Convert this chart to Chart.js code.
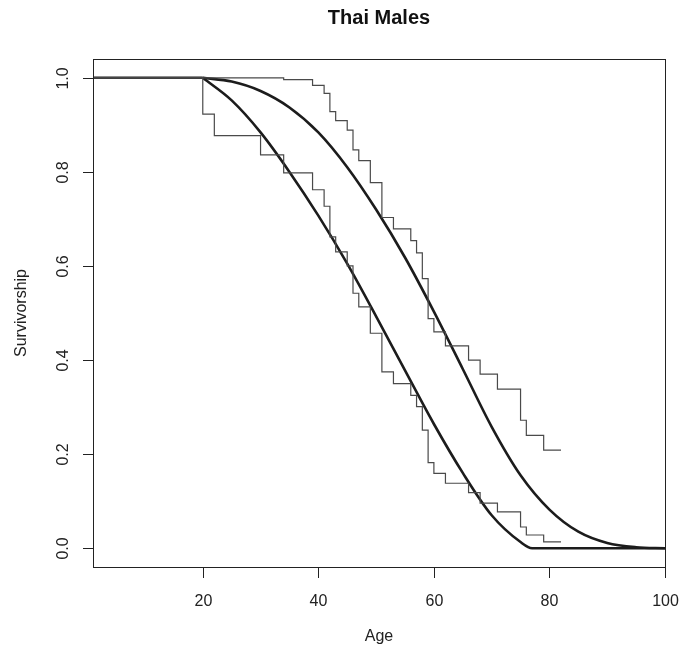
<!DOCTYPE html>
<html>
<head>
<meta charset="utf-8">
<script src="https://cdn.jsdelivr.net/npm/chart.js@4.4.1/dist/chart.umd.min.js"></script>
<style>
  html, body { margin: 0; padding: 0; background: #fff; }
  canvas { display: block; }
</style>
</head>
<body>
<canvas id="chart" width="694" height="654"></canvas>
<script>
// Kaplan-Meier steps: age of each drop and survivorship just after it
const kmStartAge = 1;
const kmAges = [20, 22, 30, 34, 39, 41, 42, 43, 45, 46, 47, 49, 51, 53, 56, 57, 58, 59, 60, 62, 66, 68, 71, 75, 76, 79, 82];
const upperKM = [1, 1, 1, 0.996, 0.984, 0.967, 0.928, 0.909, 0.889, 0.847, 0.824, 0.777, 0.703, 0.679, 0.654, 0.628, 0.573, 0.488, 0.46, 0.43, 0.4, 0.37, 0.338, 0.272, 0.24, 0.2085, 0.2085];
const lowerKM = [0.923, 0.877, 0.836, 0.798, 0.762, 0.727, 0.662, 0.63, 0.6, 0.542, 0.513, 0.457, 0.375, 0.35, 0.325, 0.301, 0.251, 0.182, 0.159, 0.138, 0.118, 0.096, 0.077, 0.045, 0.028, 0.0135, 0.0135];

// fitted curves
const flatAges = [1, 20];
const flatSurv = [1, 1];
const upperFitAges = [20, 25, 30, 35, 40, 45, 50, 55, 60, 65, 70, 75, 80, 85, 90, 95, 100];
const upperFit = [1, 0.992, 0.972, 0.937, 0.884, 0.81, 0.72, 0.618, 0.503, 0.381, 0.258, 0.155, 0.082, 0.035, 0.011, 0.002, 0];
const lowerFitAges = [20, 25, 30, 35, 40, 45, 50, 55, 60, 65, 70, 75, 77, 80, 100];
const lowerFit = [1, 0.952, 0.884, 0.8, 0.707, 0.605, 0.493, 0.378, 0.264, 0.16, 0.07, 0.013, 0, 0, 0];

const xTicks = [20, 40, 60, 80, 100];
const yTicks = [0, 0.2, 0.4, 0.6, 0.8, 1.0];
const titleText = "Thai Males";
const xTitle = "Age";
const yTitle = "Survivorship";

const FONT = "'Liberation Sans', Arial, Helvetica, sans-serif";

function pairs(xs, ys) {
  return xs.map((v, i) => ({ x: v, y: ys[i] }));
}

const stepStyle = {
  borderColor: "#4a4a4a",
  borderWidth: 1.2,
  pointRadius: 0,
  stepped: "before",
  fill: false
};
const curveStyle = {
  borderColor: "#1c1c1c",
  borderWidth: 2.6,
  pointRadius: 0,
  cubicInterpolationMode: "monotone",
  fill: false
};

// axes, box and labels in the R base-graphics look
const rAxes = {
  id: "rAxes",
  afterDraw(chart) {
    const { ctx, chartArea: a, scales } = chart;
    const sx = scales.x, sy = scales.y;
    const left = Math.round(a.left) + 0.5;
    const top = Math.round(a.top) + 0.5;
    const right = Math.round(a.right) + 0.5;
    const bottom = Math.round(a.bottom) + 0.5;
    ctx.save();
    ctx.strokeStyle = "#222";
    ctx.lineWidth = 1;
    ctx.strokeRect(left, top, right - left, bottom - top);

    ctx.fillStyle = "#222";
    ctx.font = "16px " + FONT;
    // x ticks
    ctx.textAlign = "center";
    ctx.textBaseline = "middle";
    xTicks.forEach(v => {
      const px = Math.round(sx.getPixelForValue(v)) + 0.5;
      ctx.beginPath();
      ctx.moveTo(px, bottom);
      ctx.lineTo(px, bottom + 10.5);
      ctx.stroke();
      ctx.fillText(String(v), px, 602);
    });
    // y ticks, labels turned like R's las = 0
    yTicks.forEach(v => {
      const py = Math.round(sy.getPixelForValue(v)) + 0.5;
      ctx.beginPath();
      ctx.moveTo(left - 10.5, py);
      ctx.lineTo(left, py);
      ctx.stroke();
      ctx.save();
      ctx.translate(64, py);
      ctx.rotate(-Math.PI / 2);
      ctx.fillText(v.toFixed(1), 0, 0);
      ctx.restore();
    });
    // axis titles
    const midX = (a.left + a.right) / 2;
    const midY = (a.top + a.bottom) / 2;
    ctx.fillText(xTitle, midX, 637);
    ctx.save();
    ctx.translate(22, midY);
    ctx.rotate(-Math.PI / 2);
    ctx.fillText(yTitle, 0, 0);
    ctx.restore();
    // main title
    ctx.fillStyle = "#111";
    ctx.font = "bold 20px " + FONT;
    ctx.fillText(titleText, midX, 18);
    ctx.restore();
  }
};

new Chart(document.getElementById("chart"), {
  type: "line",
  data: {
    datasets: [
      Object.assign({ label: "KM upper", data: pairs([kmStartAge].concat(kmAges), [1].concat(upperKM)) }, stepStyle),
      Object.assign({ label: "KM lower", data: pairs([kmStartAge].concat(kmAges), [1].concat(lowerKM)) }, stepStyle),
      Object.assign({ label: "flat", data: pairs(flatAges, flatSurv) }, curveStyle),
      Object.assign({ label: "fit upper", data: pairs(upperFitAges, upperFit) }, curveStyle),
      Object.assign({ label: "fit lower", data: pairs(lowerFitAges, lowerFit) }, curveStyle)
    ]
  },
  options: {
    responsive: false,
    animation: false,
    devicePixelRatio: 1,
    layout: { padding: { left: 93, right: 29, top: 59, bottom: 87 } },
    plugins: {
      legend: { display: false },
      title: { display: false },
      tooltip: { enabled: false }
    },
    scales: {
      x: { type: "linear", min: 1, max: 100, display: false },
      y: { type: "linear", min: -0.04, max: 1.04, display: false }
    }
  },
  plugins: [rAxes]
});
</script>
</body>
</html>
